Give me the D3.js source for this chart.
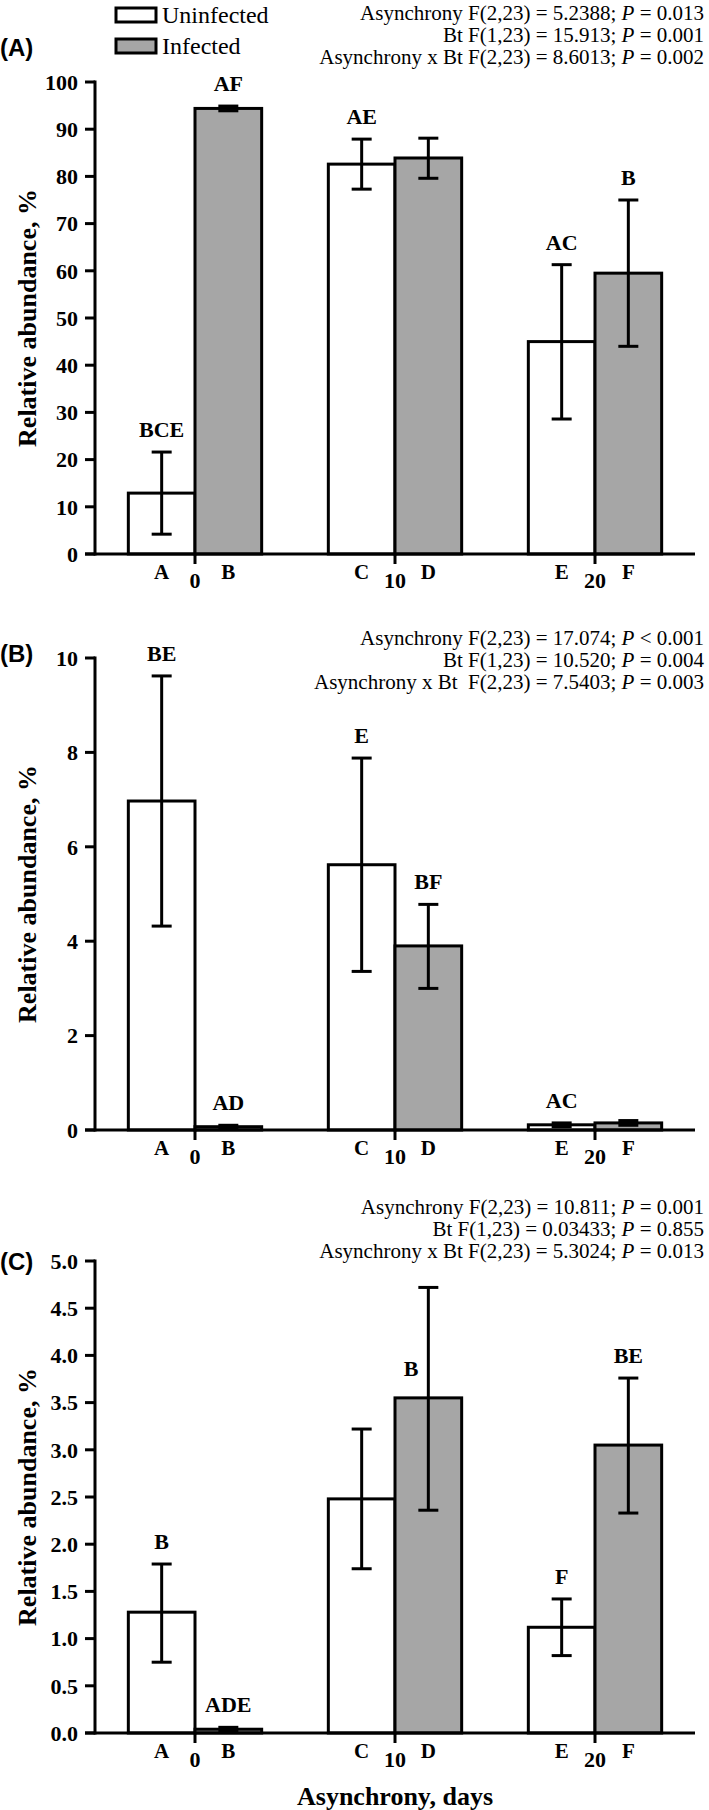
<!DOCTYPE html>
<html>
<head>
<meta charset="utf-8">
<script src="https://cdn.jsdelivr.net/npm/d3@7"></script>
<style>
  body { margin: 0; background: #fff; }
  svg text { font-family: "Liberation Serif", "Times New Roman", serif; }
</style>
</head>
<body>
<div id="chart"></div>
<script>

    // Data
    var groups = ["0", "10", "20"];
    var barLetters = [["A", "B"], ["C", "D"], ["E", "F"]];
    var seriesNames = ["Uninfected", "Infected"];

    // Panel A
    var aUninfMean = [12.9, 82.6, 45.0];
    var aUninfLow  = [4.2, 77.3, 28.6];
    var aUninfHigh = [21.6, 87.9, 61.3];
    var aInfMean   = [94.4, 83.9, 59.5];
    var aInfLow    = [93.9, 79.6, 44.0];
    var aInfHigh   = [94.9, 88.1, 75.0];
    var aUninfLabels = ["BCE", "AE", "AC"];
    var aInfLabels   = ["AF", "", "B"];
    var aStats = [
        ["Asynchrony F(2,23) = 5.2388; ", "= 0.013"],
        ["Bt F(1,23) = 15.913; ", "= 0.001"],
        ["Asynchrony x Bt F(2,23) = 8.6013; ", "= 0.002"]
    ];

    // Panel B
    var bUninfMean = [6.97, 5.62, 0.11];
    var bUninfLow  = [4.32, 3.36, 0.07];
    var bUninfHigh = [9.62, 7.88, 0.15];
    var bInfMean   = [0.07, 3.90, 0.15];
    var bInfLow    = [0.04, 3.00, 0.10];
    var bInfHigh   = [0.10, 4.78, 0.20];
    var bUninfLabels = ["BE", "E", "AC"];
    var bInfLabels   = ["AD", "BF", ""];
    var bStats = [
        ["Asynchrony F(2,23) = 17.074; ", "< 0.001"],
        ["Bt F(1,23) = 10.520; ", "= 0.004"],
        ["Asynchrony x Bt  F(2,23) = 7.5403; ", "= 0.003"]
    ];

    // Panel C
    var cUninfMean = [1.28, 2.48, 1.12];
    var cUninfLow  = [0.75, 1.74, 0.82];
    var cUninfHigh = [1.79, 3.22, 1.42];
    var cInfMean   = [0.04, 3.55, 3.05];
    var cInfLow    = [0.02, 2.36, 2.33];
    var cInfHigh   = [0.06, 4.72, 3.76];
    var cUninfLabels = ["B", "", "F"];
    var cInfLabels   = ["ADE", "B", "BE"];
    var cStats = [
        ["Asynchrony F(2,23) = 10.811; ", "= 0.001"],
        ["Bt F(1,23) = 0.03433; ", "= 0.855"],
        ["Asynchrony x Bt F(2,23) = 5.3024; ", "= 0.013"]
    ];

    var yTicksA = d3.range(0, 101, 10);
    var yTicksB = d3.range(0, 11, 2);
    var yTicksC = d3.range(0, 5.01, 0.5);


    var width = 709, height = 1810;
    var fill = ["#ffffff", "#a6a6a6"];

    var svg = d3.select("#chart").append("svg")
        .attr("width", width)
        .attr("height", height)
        .style("font-family", "'Liberation Serif', 'Times New Roman', serif");

    var x = d3.scaleBand().domain(groups).range([95, 695]);
    var xSub = d3.scaleBand().domain([0, 1]).range([0, x.bandwidth() * 2 / 3]);

    function barX(gi, s) {
        return x(groups[gi]) + x.bandwidth() / 6 + xSub(s);
    }

    var panels = [
        {name: "(A)", top: 82, max: 100, ticks: yTicksA, fmt: d3.format("d"),
         series: [[aUninfMean, aUninfLow, aUninfHigh, aUninfLabels], [aInfMean, aInfLow, aInfHigh, aInfLabels]],
         stats: aStats, statsY: 20, nameY: 56},
        {name: "(B)", top: 658, max: 10, ticks: yTicksB, fmt: d3.format("d"),
         series: [[bUninfMean, bUninfLow, bUninfHigh, bUninfLabels], [bInfMean, bInfLow, bInfHigh, bInfLabels]],
         stats: bStats, statsY: 645, nameY: 662},
        {name: "(C)", top: 1261, max: 5, ticks: yTicksC, fmt: d3.format(".1f"),
         series: [[cUninfMean, cUninfLow, cUninfHigh, cUninfLabels], [cInfMean, cInfLow, cInfHigh, cInfLabels]],
         stats: cStats, statsY: 1214, nameY: 1270}
    ];
    var plotH = 472;

    panels.forEach(function(p, pi) {

        var y = d3.scaleLinear().domain([0, p.max]).range([p.top + plotH, p.top]);
        var g = svg.append("g");

        // bars
        p.series.forEach(function(s, si) {
            g.selectAll(".bar" + si)
                .data(s[0])
                .enter().append("rect")
                .attr("x", function(d, i) { return barX(i, si); })
                .attr("y", function(d) { return y(d); })
                .attr("width", xSub.bandwidth())
                .attr("height", function(d) { return y(0) - y(d); })
                .attr("fill", fill[si])
                .attr("stroke", "#000")
                .attr("stroke-width", 3);
        });

        // error bars + letters
        p.series.forEach(function(s, si) {
            s[0].forEach(function(m, i) {
                var cx = barX(i, si) + xSub.bandwidth() / 2;
                var eb = g.append("g").attr("stroke", "#000").attr("stroke-width", 3);
                eb.append("line").attr("x1", cx).attr("x2", cx).attr("y1", y(s[1][i])).attr("y2", y(s[2][i]));
                eb.append("line").attr("x1", cx - 10).attr("x2", cx + 10).attr("y1", y(s[1][i])).attr("y2", y(s[1][i]));
                eb.append("line").attr("x1", cx - 10).attr("x2", cx + 10).attr("y1", y(s[2][i])).attr("y2", y(s[2][i]));

                var lab = s[3][i];
                if (!lab) return;
                var t = g.append("text")
                    .attr("font-weight", "bold")
                    .attr("font-size", 22)
                    .text(lab);
                if (pi == 2 && si == 1 && i == 1) {
                    // this one sits beside the whisker, just above the bar
                    t.attr("x", cx - 10).attr("y", y(m) - 22).attr("text-anchor", "end");
                } else {
                    t.attr("x", cx).attr("y", y(s[2][i]) - 15).attr("text-anchor", "middle");
                }
            });
        });

        // y axis
        g.append("line")
            .attr("x1", 95).attr("x2", 95)
            .attr("y1", y(p.max) - 1.5).attr("y2", y(0) + 1.5)
            .attr("stroke", "#000").attr("stroke-width", 3);
        g.selectAll(".ytick").data(p.ticks).enter().append("line")
            .attr("x1", 85).attr("x2", 95)
            .attr("y1", function(d) { return y(d); })
            .attr("y2", function(d) { return y(d); })
            .attr("stroke", "#000").attr("stroke-width", 3);
        g.selectAll(".ylab").data(p.ticks).enter().append("text")
            .attr("x", 78)
            .attr("y", function(d) { return y(d); })
            .attr("dy", "0.35em")
            .attr("text-anchor", "end")
            .attr("font-weight", "bold")
            .attr("font-size", 22)
            .text(function(d) { return p.fmt(d); });

        // x axis
        g.append("line")
            .attr("x1", 85).attr("x2", 695)
            .attr("y1", y(0)).attr("y2", y(0))
            .attr("stroke", "#000").attr("stroke-width", 3);
        g.selectAll(".xtick").data(groups).enter().append("line")
            .attr("x1", function(d) { return x(d) + x.bandwidth() / 2; })
            .attr("x2", function(d) { return x(d) + x.bandwidth() / 2; })
            .attr("y1", y(0)).attr("y2", y(0) + 10)
            .attr("stroke", "#000").attr("stroke-width", 3);
        g.selectAll(".xlab").data(groups).enter().append("text")
            .attr("x", function(d) { return x(d) + x.bandwidth() / 2; })
            .attr("y", y(0) + 34)
            .attr("text-anchor", "middle")
            .attr("font-weight", "bold")
            .attr("font-size", 22)
            .text(function(d) { return d; });
        barLetters.forEach(function(pair, gi) {
            pair.forEach(function(l, si) {
                g.append("text")
                    .attr("x", barX(gi, si) + xSub.bandwidth() / 2)
                    .attr("y", y(0) + 25)
                    .attr("text-anchor", "middle")
                    .attr("font-weight", "bold")
                    .attr("font-size", 21)
                    .text(l);
            });
        });

        // y title
        g.append("text")
            .attr("transform", "translate(36," + (p.top + plotH / 2) + ") rotate(-90)")
            .attr("text-anchor", "middle")
            .attr("font-weight", "bold")
            .attr("font-size", 26)
            .text("Relative abundance, %");

        // panel letter
        g.append("text")
            .attr("x", 0).attr("y", p.nameY)
            .style("font-family", "'Liberation Sans', Arial, sans-serif")
            .attr("font-weight", "bold")
            .attr("font-size", 24)
            .text(p.name);

        // statistics
        p.stats.forEach(function(line, li) {
            var t = g.append("text")
                .attr("x", 704)
                .attr("y", p.statsY + li * 22)
                .attr("text-anchor", "end")
                .attr("font-size", 21)
                .style("white-space", "pre");
            t.append("tspan").text(line[0]);
            t.append("tspan").attr("font-style", "italic").text("P");
            t.append("tspan").text(" " + line[1]);
        });
    });

    // legend
    var legend = svg.append("g");
    seriesNames.forEach(function(n, i) {
        var ly = 15 + i * 31;
        legend.append("rect")
            .attr("x", 116).attr("y", ly - 7)
            .attr("width", 40).attr("height", 14)
            .attr("fill", fill[i])
            .attr("stroke", "#000").attr("stroke-width", 3);
        legend.append("text")
            .attr("x", 162).attr("y", ly + 8)
            .attr("font-size", 24)
            .text(n);
    });

    // x title
    svg.append("text")
        .attr("x", 395).attr("y", 1805)
        .attr("text-anchor", "middle")
        .attr("font-weight", "bold")
        .attr("font-size", 26)
        .text("Asynchrony, days");

</script>
</body>
</html>
